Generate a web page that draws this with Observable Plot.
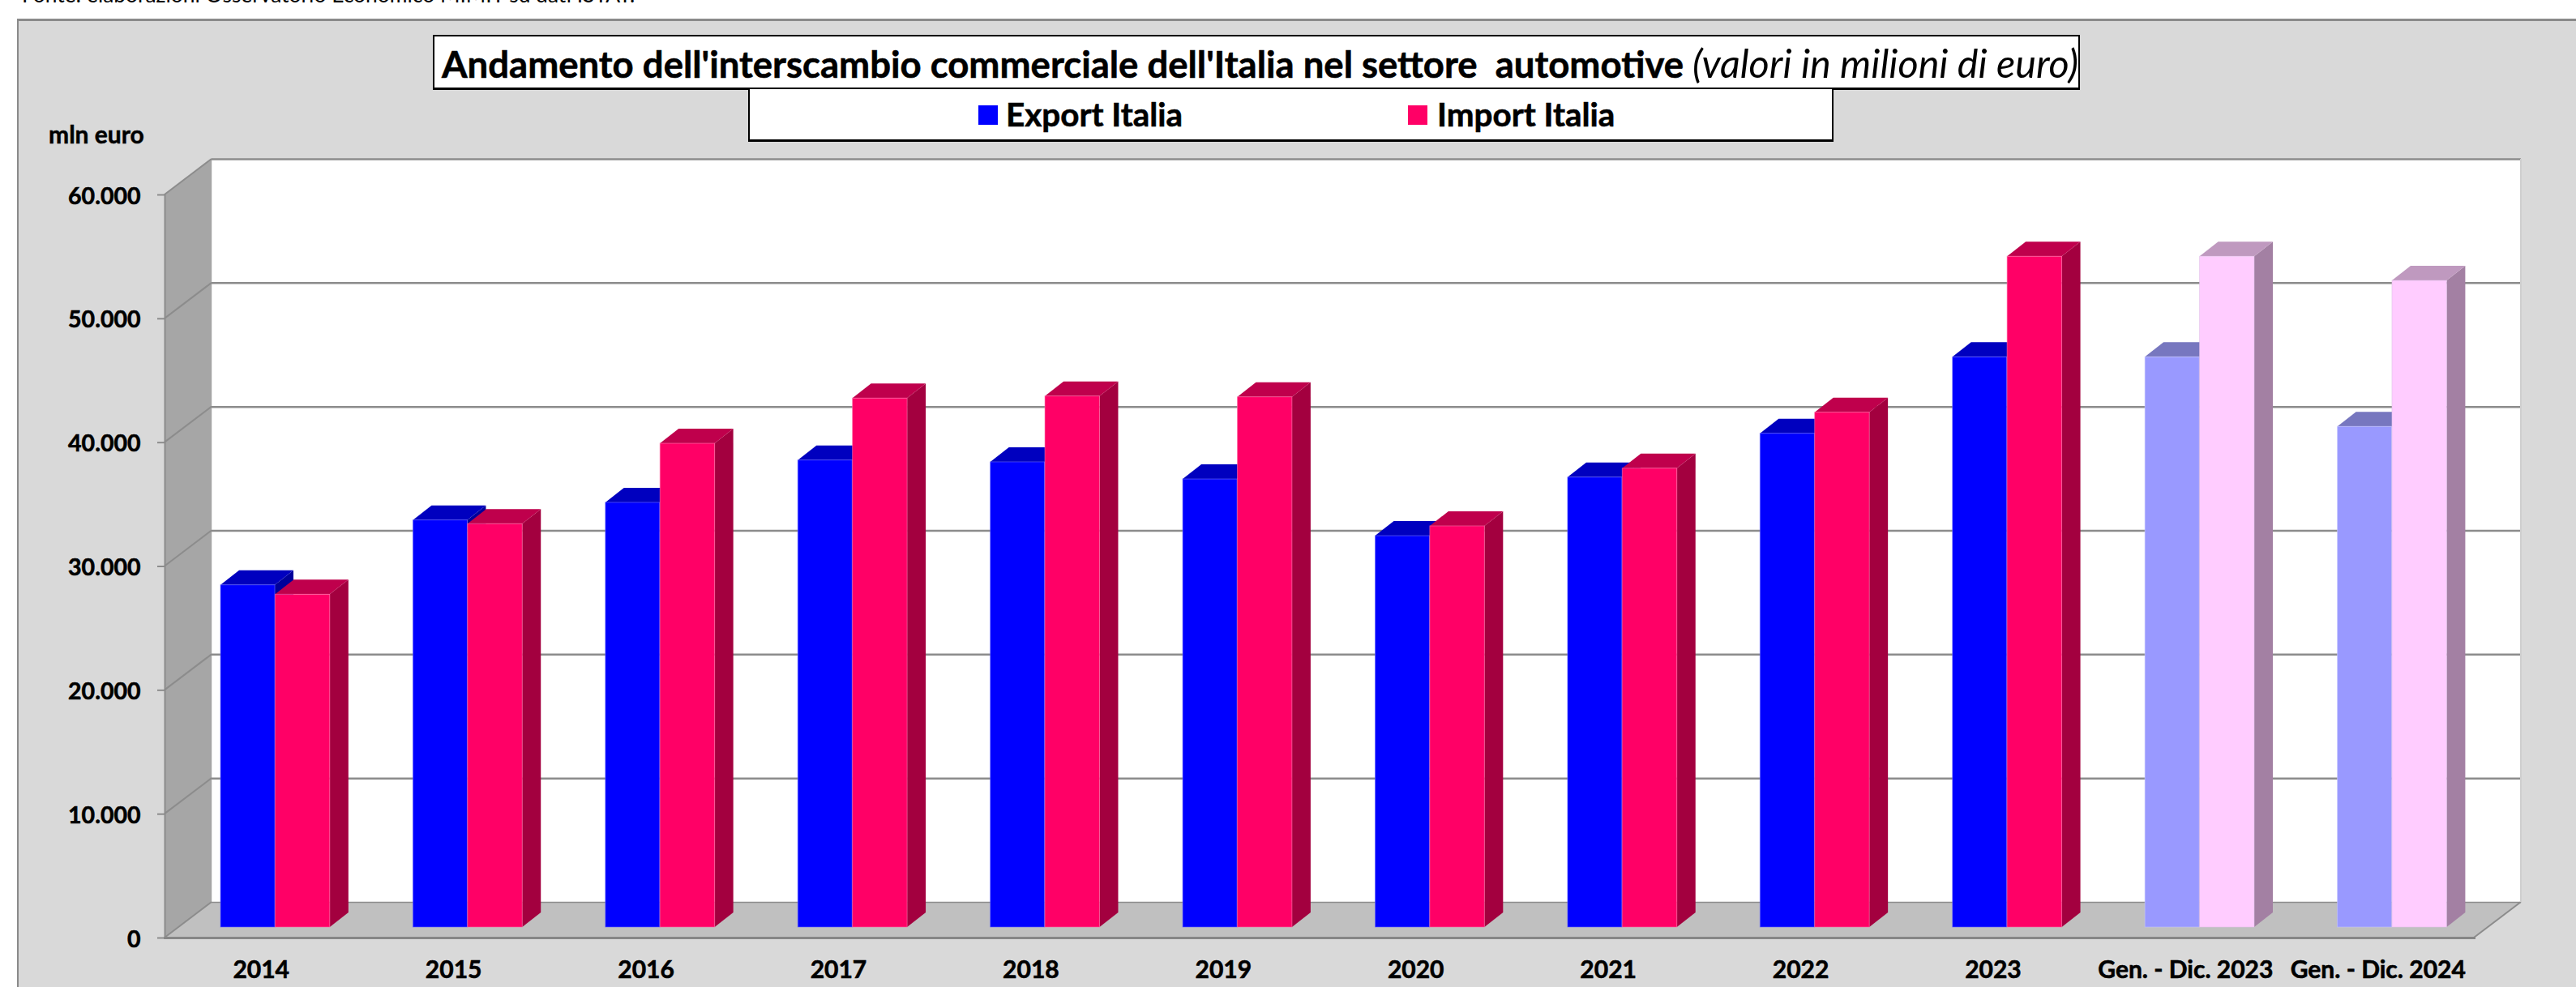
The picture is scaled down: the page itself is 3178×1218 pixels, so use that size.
<!DOCTYPE html>
<html lang="it">
<head>
<meta charset="utf-8">
<title>Andamento dell'interscambio commerciale dell'Italia nel settore automotive</title>
<script src="https://cdn.jsdelivr.net/npm/d3@7"></script>
<script src="https://cdn.jsdelivr.net/npm/@observablehq/plot@0.6"></script>
<style>
  html, body { margin: 0; padding: 0; background: #fff; overflow: hidden; }
  body { position: relative; width: 3178px; height: 1218px; font-family: Lato, "Open Sans", sans-serif; color: #000; }
  #panel { position: absolute; left: 21px; top: 23px; right: 0; bottom: 0; background: #d9d9d9; border-top: 3px solid #8a8a8a; border-left: 2px solid #8a8a8a; box-sizing: border-box; }
  #chart { position: absolute; left: 0; top: 0; }
  #chart svg text { stroke: #000; stroke-width: 0.6px; }
  .abs { position: absolute; white-space: pre; }
  #source { left: 27px; top: -23px; font-size: 26.4px; line-height: 32px; }
  #titlebox, #legendbox { position: absolute; background: #fff; border: 2px solid #000; border-bottom-width: 3px; box-sizing: border-box; }
  #titlebox { left: 534px; top: 43px; width: 2032px; height: 68px; }
  #legendbox { left: 923px; top: 108px; width: 1339px; height: 67px; }
  #title { left: 545px; top: 50px; font-size: 45.5px; line-height: 54px; font-weight: 700; -webkit-text-stroke: 0.6px #000; }
  #title i { font-weight: 400; font-size: 48.5px; -webkit-text-stroke: 0; }
  #unit { left: 60px; top: 148px; font-size: 30px; line-height: 34px; font-weight: 700; -webkit-text-stroke: 0.5px #000; }
  .swatch { position: absolute; width: 24px; height: 24px; top: 130px; }
  .legtext { top: 119px; font-size: 40.4px; line-height: 44px; font-weight: 700; -webkit-text-stroke: 0.6px #000; }
</style>
</head>
<body>
<div id="source" class="abs">Fonte: elaborazioni Osservatorio Economico MIMIT su dati ISTAT.</div>
<div id="panel"></div>
<div id="chart"></div>
<div id="titlebox"></div>
<div id="legendbox"></div>
<div id="title" class="abs">Andamento dell'interscambio commerciale dell'Italia nel settore  automotive <i>(valori in milioni di euro)</i></div>
<div id="unit" class="abs">mln euro</div>
<div class="swatch" style="left:1207px;background:#0000ff"></div>
<div id="legA" class="abs legtext" style="left:1241px">Export Italia</div>
<div class="swatch" style="left:1737px;background:#ff0066"></div>
<div id="legB" class="abs legtext" style="left:1773px">Import Italia</div>
<script>
const categories = ["2014","2015","2016","2017","2018","2019","2020","2021","2022","2023","Gen. - Dic. 2023","Gen. - Dic. 2024"];
const exportItalia = [27630,32870,34290,37710,37560,36180,31600,36330,39870,46040,46040,40420];
const importItalia = [26870,32570,39060,42710,42880,42810,32390,37050,41570,54160,54160,52210];
const highlighted = ["Gen. - Dic. 2023","Gen. - Dic. 2024"];
const yTicks = [0,10000,20000,30000,40000,50000,60000];

const exportPalette = {front:"#0000ff", top:"#0000bf", side:"#00009a", edge:"#6a6aff"};
const importPalette = {front:"#ff0066", top:"#bf004c", side:"#a3003f", edge:"#ff6fa8"};
const exportLight = {front:"#9999ff", top:"#7777bf", side:"#7b7bb0", edge:"#c4c4ff"};
const importLight = {front:"#ffccff", top:"#bf99bf", side:"#a380a3", edge:"#e0c0e8"};

const rows = (vals, base, light) => categories.map((c,i) => {
  const p = highlighted.includes(c) ? light : base;
  return {category:c, value:vals[i], front:p.front, top:p.top, side:p.side, edge:p.edge};
});
const exportRows = rows(exportItalia, exportPalette, exportLight);
const importRows = rows(importItalia, importPalette, importLight);

const wallDx = 58, wallDy = -44;   // depth of the chart box
const barLift = -13;               // bars stand slightly behind the front edge
const barDx = 23, barDy = -18;     // depth of each bar
const insets = {exp:[69,101.4], imp:[136.4,33.6]};

const fmt = d => d3.format(",")(d).replace(/,/g,".");

function svgPoly(g, pts, fill, stroke, sw) {
  g.append("polygon").attr("points", pts.map(p => p.join(",")).join(" "))
    .attr("fill", fill).attr("stroke", stroke || "none").attr("stroke-width", sw || 0);
}

function box(index, {x, y}) {
  const g = d3.create("svg:g");
  const l = x(categories[0]);
  const r = x(categories[categories.length-1]) + (x(categories[1]) - x(categories[0]));
  const b = y(0), t = y(60000);
  svgPoly(g, [[l,b],[l+wallDx,b+wallDy],[l+wallDx,t+wallDy],[l,t]], "#a6a6a6");
  svgPoly(g, [[l,b],[l+wallDx,b+wallDy],[r+wallDx,b+wallDy],[r,b]], "#c0c0c0");
  return g.node();
}

function diagonals(index, {x, y}) {
  const g = d3.create("svg:g").attr("stroke","#8c8c8c").attr("stroke-width",2);
  const l = x(categories[0]);
  const r = x(categories[categories.length-1]) + (x(categories[1]) - x(categories[0]));
  for (const v of yTicks) {
    g.append("line").attr("x1",l).attr("y1",y(v)).attr("x2",l+wallDx).attr("y2",y(v)+wallDy);
  }
  g.append("line").attr("x1",r).attr("y1",y(0)).attr("x2",r+wallDx).attr("y2",y(0)+wallDy);
  g.append("line").attr("x1",r+wallDx).attr("y1",y(0)+wallDy).attr("x2",r+wallDx).attr("y2",y(60000)+wallDy).attr("stroke","#cfcfcf");
  return g.node();
}

const faces = (data, [il, ir]) => (index, {x, y}) => {
  const g = d3.create("svg:g");
  const step = x(categories[1]) - x(categories[0]);
  for (const d of data) {
    const x0 = x(d.category) + il, x1 = x(d.category) + step - ir;
    const yb = y(0) + barLift, yt = y(d.value) + barLift;
    svgPoly(g, [[x1,yb],[x1+barDx,yb+barDy],[x1+barDx,yt+barDy],[x1,yt]], d.side);
    svgPoly(g, [[x0,yt],[x1,yt],[x1+barDx,yt+barDy],[x0+barDx,yt+barDy]], d.top);
  }
  return g.node();
};

const bars = (data, [il, ir]) => Plot.barY(data, {
  x:"category", y:"value", fill:"front", stroke:"edge", strokeWidth:1, strokeOpacity:0.6,
  insetLeft:il, insetRight:ir, dy:barLift
});

const plot = Plot.plot({
  width:3178, height:1218,
  marginLeft:203, marginRight:126, marginTop:240, marginBottom:61,
  style:{background:"transparent", fontFamily:"Lato, 'Open Sans', sans-serif", fontWeight:700, color:"#000"},
  x:{type:"band", domain:categories, padding:0, round:false, label:null},
  y:{domain:[0,60000], label:null},
  color:{type:"identity"},
  marks:[
    Plot.frame({fill:"#ffffff", stroke:null, dx:wallDx, dy:wallDy}),
    box,
    Plot.ruleY(yTicks.filter(v => v > 0), {dx:wallDx, dy:wallDy, stroke:"#8c8c8c", strokeWidth:2.5}),
    Plot.ruleY([0], {dx:wallDx, dy:wallDy, stroke:"#8c8c8c", strokeWidth:1.5}),
    diagonals,
    Plot.frame({anchor:"left", stroke:"#8c8c8c", strokeWidth:2}),
    Plot.frame({anchor:"bottom", stroke:"#868686", strokeWidth:3}),
    faces(exportRows, insets.exp),
    bars(exportRows, insets.exp),
    faces(importRows, insets.imp),
    bars(importRows, insets.imp),
    Plot.axisY({ticks:yTicks, tickFormat:fmt, text:null, tickSize:9, stroke:"#8c8c8c", strokeWidth:2, label:null}),
    Plot.axisY({ticks:yTicks, tickFormat:fmt, tickSize:0, tickPadding:30, dy:2, fontSize:28.5, fill:"#000", label:null}),
    Plot.axisX({tickSize:0, tickPadding:28, fontSize:30, fill:"#000", label:null})
  ]
});
document.getElementById("chart").appendChild(plot);
</script>
</body>
</html>
